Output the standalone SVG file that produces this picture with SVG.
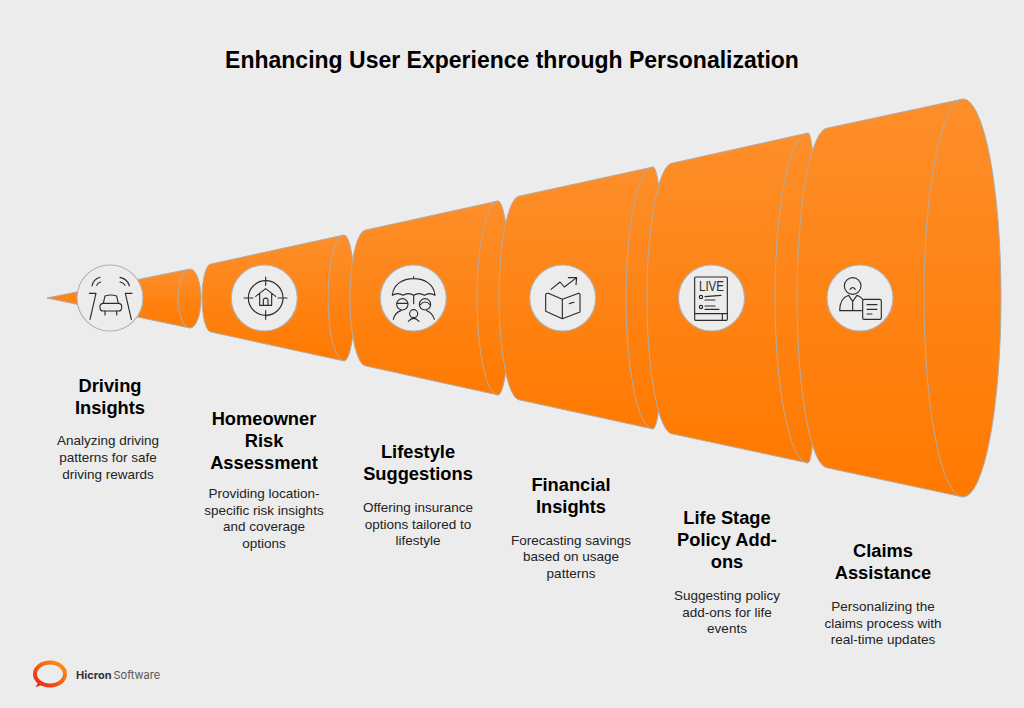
<svg xmlns="http://www.w3.org/2000/svg" width="1024" height="708" viewBox="0 0 1024 708">
<style>
text{font-family:"Liberation Sans",Arial,sans-serif;text-anchor:middle;fill:#000}
.title{font-size:23px;font-weight:700}
.head{font-size:18.3px;font-weight:700}
.body{font-size:13.5px;fill:#222}
.seg{fill:url(#org);stroke:#b3aca4;stroke-width:1}
.rim{fill:none;stroke:#b3aca4;stroke-width:1}
.disc{fill:#ececec;stroke:#b3b3b3;stroke-width:1.1}
.ico{fill:none;stroke:#2b2b2b;stroke-width:3.4;stroke-linecap:round;stroke-linejoin:round}
.logo{font-family:Inter,"Liberation Sans",sans-serif;font-size:11px;text-anchor:start;fill:#333}
</style>
<defs>
<linearGradient id="org" x1="0" y1="0" x2="0" y2="1"><stop offset="0" stop-color="#fd8e2a"/><stop offset="1" stop-color="#ff7900"/></linearGradient>
<linearGradient id="ring" x1="0" y1="1" x2="1" y2="0"><stop offset="0" stop-color="#e8251c"/><stop offset=".6" stop-color="#f76a12"/><stop offset="1" stop-color="#fb9a1e"/></linearGradient>
</defs>
<rect width="1024" height="708" fill="#ececec"/>
<text class="title" x="512" y="68">Enhancing User Experience through Personalization</text>

<g id="node-driving-insights">
<path class="seg" d="M47 298L190 269A11 29.500 0 0 1 190 328Z"/>
<path class="rim" d="M190 269A12 29.500 0 0 0 190 328"/>
<circle class="disc" cx="110" cy="298" r="33"/>
<g class="ico" transform="translate(70 260) scale(.3333)">
<path d="M66 78Q70 58 90 52M80 76Q83 68 92 66M178 78Q174 58 150 52M165 76Q161 68 150 66"/>
<path d="M58 100H78L60 178M186 100H166L184 178"/>
<path d="M100 130L105 108Q122 102 140 108L145 130"/>
<rect x="90" y="130" width="65" height="23" rx="10"/>
<path d="M105 153V165M140 153V165"/>
</g>
<text class="head"><tspan x="110" y="392">Driving</tspan><tspan x="110" y="414">Insights</tspan></text>
<text class="body"><tspan x="108" y="445">Analyzing driving</tspan><tspan x="108" y="462">patterns for safe</tspan><tspan x="108" y="479">driving rewards</tspan></text>
</g>

<g id="node-homeowner-risk">
<path class="seg" d="M211 264L344 235A11 63 0 0 1 344 361L211 332A9 34 0 0 1 211 264Z"/>
<path class="rim" d="M344 235A16 63 0 0 0 344 361"/>
<circle class="disc" cx="264.300" cy="298" r="33"/>
<g class="ico" transform="translate(228 262) scale(.3333)">
<circle cx="113" cy="108" r="52"/>
<path d="M113 45V70M113 146V172M48 108H75M150 108H177"/>
<path d="M83 103L113 80L143 103M95 95V130H131V95M106 130V112Q113 105 120 112V130"/>
</g>
<text class="head"><tspan x="264" y="425">Homeowner</tspan><tspan x="264" y="447">Risk</tspan><tspan x="264" y="469">Assessment</tspan></text>
<text class="body"><tspan x="264" y="498">Providing location-</tspan><tspan x="264" y="515">specific risk insights</tspan><tspan x="264" y="531">and coverage</tspan><tspan x="264" y="548">options</tspan></text>
</g>

<g id="node-lifestyle-suggestions">
<path class="seg" d="M366 230L498 201A12 97 0 0 1 498 395L366 366A16 68 0 0 1 366 230Z"/>
<path class="rim" d="M498 201A21 97 0 0 0 498 395"/>
<circle class="disc" cx="413.300" cy="298" r="33"/>
<g class="ico" transform="translate(375 262) scale(.3333)">
<path d="M52 100C55 65 85 50 116 50C147 50 177 65 180 100Q164 90 148 100Q132 90 116 100Q100 90 84 100Q68 90 52 100ZM116 44V50M116 100V125"/>
<circle cx="82" cy="127" r="17"/><circle cx="150" cy="127" r="17"/><circle cx="116" cy="155" r="12"/>
<path d="M66 124H98M136 128Q150 112 165 128M55 172Q60 152 78 146M178 172Q172 152 155 146M100 178Q116 160 132 178"/>
</g>
<text class="head"><tspan x="418" y="458">Lifestyle</tspan><tspan x="418" y="480">Suggestions</tspan></text>
<text class="body"><tspan x="418" y="512">Offering insurance</tspan><tspan x="418" y="529">options tailored to</tspan><tspan x="418" y="545">lifestyle</tspan></text>
</g>

<g id="node-financial-insights">
<path class="seg" d="M520 196L653 167A11 131 0 0 1 653 429L520 400A21 102 0 0 1 520 196Z"/>
<path class="rim" d="M653 167A27 131 0 0 0 653 429"/>
<circle class="disc" cx="562.700" cy="298" r="33"/>
<g class="ico" transform="translate(525 262) scale(.3333)">
<path d="M78 82L105 60L118 75L155 47M130 47H155L153 68"/>
<path d="M112 112L70 94Q62 92 62 100V148L112 170L165 150V100Q165 92 157 95L112 112V170M133 125L147 121"/>
</g>
<text class="head"><tspan x="571" y="491">Financial</tspan><tspan x="571" y="513">Insights</tspan></text>
<text class="body"><tspan x="571" y="545">Forecasting savings</tspan><tspan x="571" y="561">based on usage</tspan><tspan x="571" y="578">patterns</tspan></text>
</g>

<g id="node-life-stage">
<path class="seg" d="M673 163L808 133A10 165 0 0 1 808 463L673 434A26 135.500 0 0 1 673 163Z"/>
<path class="rim" d="M808 133A33 165 0 0 0 808 463"/>
<circle class="disc" cx="711.500" cy="298" r="33"/>
<g class="ico" transform="translate(675 262) scale(.3333)">
<rect x="59" y="45" width="98" height="130" rx="3"/>
<path d="M59 155H157M142 155V175"/>
<circle cx="78" cy="105" r="5"/><circle cx="78" cy="135" r="5"/>
<path d="M90 104L138 100M90 114H120M90 132H120M90 142H132"/>
</g>
<text x="711.500" y="291.300" font-size="15.500" textLength="25" lengthAdjust="spacingAndGlyphs" style="fill:#2b2b2b">LIVE</text>
<text class="head"><tspan x="727" y="524">Life Stage</tspan><tspan x="727" y="546">Policy Add-</tspan><tspan x="727" y="568">ons</tspan></text>
<text class="body"><tspan x="727" y="600">Suggesting policy</tspan><tspan x="727" y="617">add-ons for life</tspan><tspan x="727" y="633">events</tspan></text>
</g>

<g id="node-claims-assistance">
<path class="seg" d="M828 128L963 99A38 199 0 0 1 963 497L828 468A31 170 0 0 1 828 128Z"/>
<path class="rim" d="M963 99A39 199 0 0 0 963 497"/>
<circle class="disc" cx="860" cy="298" r="33"/>
<g class="ico" transform="translate(822 262) scale(.3333)">
<circle cx="92" cy="72" r="25"/>
<path d="M84 82Q92 72 100 82M53 146C53 120 65 105 80 100L92 118L105 100C112 103 118 106 122 112M53 146H118M92 118V146"/>
<rect x="122" y="112" width="56" height="60" rx="5"/>
<path d="M135 128H165M135 142H165M135 156H150"/>
</g>
<text class="head"><tspan x="883" y="557">Claims</tspan><tspan x="883" y="579">Assistance</tspan></text>
<text class="body"><tspan x="883" y="611">Personalizing the</tspan><tspan x="883" y="628">claims process with</tspan><tspan x="883" y="644">real-time updates</tspan></text>
</g>

<g id="logo">
<path d="M38 683.500L36.500 686.500L42 684Z" fill="#e8251c" stroke="#e8251c" stroke-width="1"/>
<ellipse cx="50" cy="674" rx="15" ry="11.500" fill="none" stroke="url(#ring)" stroke-width="4"/>
<text class="logo" x="76" y="678.500"><tspan font-weight="700">Hicron</tspan><tspan dx="2" fill="#555">Software</tspan></text>
</g>
</svg>
